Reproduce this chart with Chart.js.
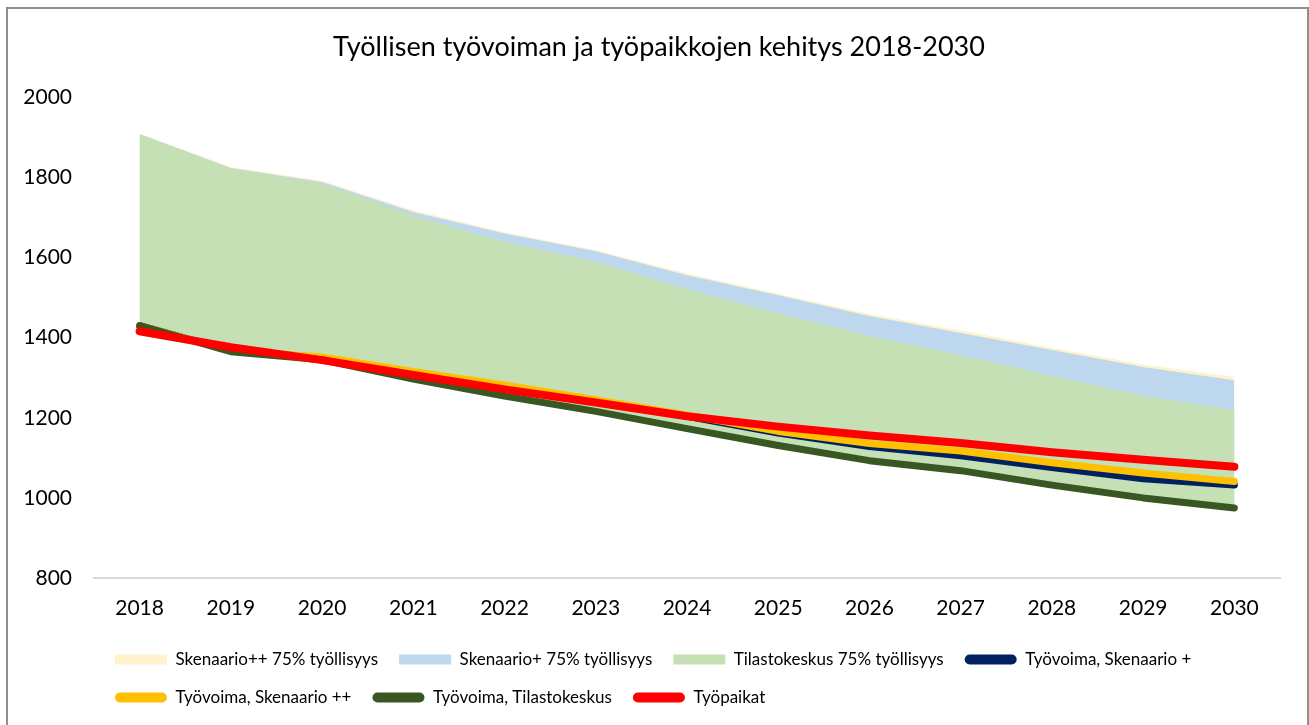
<!DOCTYPE html>
<html>
<head>
<meta charset="utf-8">
<title>Työllisen työvoiman ja työpaikkojen kehitys</title>
<script src="https://cdn.jsdelivr.net/npm/chart.js@4"></script>
<style>
    body { margin: 0; background: #fff; }
    #frame {
        position: absolute;
        left: 6px;
        top: 7px;
        width: 1299px;
        height: 740px;
        border: 2px solid #8f8f8f;
    }
    #chart { position: absolute; left: 0; top: 0; }
</style>
</head>
<body>
<div id="frame"></div>
<canvas id="chart" width="1309" height="725"></canvas>
<script>
// years on the x axis
const years = ['2018', '2019', '2020', '2021', '2022', '2023', '2024', '2025', '2026', '2027', '2028', '2029', '2030'];

// 75% employment levels (area tops)
const skenaarioPlusPlus75 = [1910, 1826, 1792, 1718, 1663, 1619, 1560, 1510, 1459, 1418, 1375, 1333, 1302];
const skenaarioPlus75 = [1908, 1824, 1789, 1714, 1660, 1616, 1556, 1506, 1454, 1412, 1369, 1327, 1294];
const tilastokeskus75 = [1908, 1823, 1785, 1706, 1639, 1590, 1521, 1461, 1405, 1356, 1305, 1255, 1219];

// labour force and jobs
const tyovoimaPlus = [1430, 1368, 1350, 1314, 1280, 1243, 1204, 1162, 1128, 1105, 1076, 1048, 1032];
const tyovoimaPlusPlus = [1430, 1368, 1352, 1316, 1282, 1245, 1207, 1166, 1136, 1117, 1088, 1062, 1041];
const tyovoimaTilastokeskus = [1430, 1365, 1345, 1297, 1254, 1216, 1173, 1131, 1093, 1068, 1032, 1000, 975];
const tyopaikat = [1416, 1376, 1344, 1307, 1271, 1238, 1204, 1178, 1156, 1137, 1114, 1095, 1078];

const yTicks = [800, 1000, 1200, 1400, 1600, 1800, 2000];

const FONT = 'Lato, "Open Sans", sans-serif';

function areaSet(label, data, color, order) {
    return {
        label: label,
        data: data,
        backgroundColor: color,
        borderColor: 'rgba(0,0,0,0)',
        borderWidth: 0,
        pointRadius: 0,
        fill: 5, // down to "Työvoima, Tilastokeskus"
        order: order
    };
}

function lineSet(label, data, color, width, order) {
    return {
        label: label,
        data: data,
        borderColor: color,
        backgroundColor: color,
        borderWidth: width,
        borderCapStyle: 'round',
        borderJoinStyle: 'round',
        pointRadius: 0,
        fill: false,
        tension: 0,
        order: order
    };
}

// nudge title and legend rows to where the original has them
const blockShift = {
    id: 'blockShift',
    afterLayout(chart) {
        if (chart.legend) {
            chart.legend.left = 94;
        }
        if (chart.titleBlock) {
            chart.titleBlock.left = 38;
        }
    }
};

const ctx = document.getElementById('chart').getContext('2d');

new Chart(ctx, {
    type: 'line',
    data: {
        labels: years,
        datasets: [
            areaSet('Skenaario++ 75% työllisyys', skenaarioPlusPlus75, '#FFF2CC', 7),
            areaSet('Skenaario+ 75% työllisyys', skenaarioPlus75, '#BDD7EE', 6),
            areaSet('Tilastokeskus 75% työllisyys', tilastokeskus75, '#C5E0B4', 5),
            lineSet('Työvoima, Skenaario +', tyovoimaPlus, '#002060', 7, 4),
            lineSet('Työvoima, Skenaario ++', tyovoimaPlusPlus, '#FFC000', 7, 3),
            lineSet('Työvoima, Tilastokeskus', tyovoimaTilastokeskus, '#385723', 7, 2),
            lineSet('Työpaikat', tyopaikat, '#FF0000', 8, 1)
        ]
    },
    options: {
        responsive: false,
        animation: false,
        events: [],
        layout: {
            padding: { left: 0, right: 29, top: 0, bottom: 9 }
        },
        scales: {
            x: {
                offset: true,
                grid: { display: false, drawTicks: false },
                border: { display: true, color: '#d9d9d9', width: 2 },
                ticks: {
                    color: '#000',
                    padding: 18,
                    font: { family: FONT, size: 21 }
                },
                afterFit(scale) {
                    scale.height = 52;
                }
            },
            y: {
                min: 800,
                max: 2000,
                afterBuildTicks(scale) {
                    scale.ticks = yTicks.map(v => ({ value: v }));
                },
                grid: { display: false, drawTicks: false },
                border: { display: false },
                ticks: {
                    color: '#000',
                    padding: 22,
                    font: { family: FONT, size: 21 },
                    callback: v => String(v)
                },
                afterFit(scale) {
                    scale.width = 94;
                }
            }
        },
        plugins: {
            title: {
                display: true,
                text: 'Työllisen työvoiman ja työpaikkojen kehitys 2018-2030',
                color: '#000',
                font: { family: FONT, size: 27, weight: 'normal' },
                padding: { top: 31, bottom: 34 }
            },
            legend: {
                position: 'bottom',
                align: 'start',
                labels: {
                    color: '#000',
                    font: { family: FONT, size: 17 },
                    boxWidth: 52,
                    boxHeight: 10,
                    padding: 21,
                    sort: (a, b) => a.datasetIndex - b.datasetIndex,
                    generateLabels(chart) {
                        const items = Chart.defaults.plugins.legend.labels.generateLabels(chart);
                        items.forEach(item => {
                            const ds = chart.data.datasets[item.datasetIndex];
                            item.fillStyle = ds.backgroundColor;
                            item.lineWidth = 0;
                            item.strokeStyle = 'rgba(0,0,0,0)';
                            item.borderRadius = ds.fill === false ? 5 : 0;
                        });
                        return items;
                    }
                }
            },
            tooltip: { enabled: false }
        }
    },
    plugins: [blockShift]
});
</script>
</body>
</html>
